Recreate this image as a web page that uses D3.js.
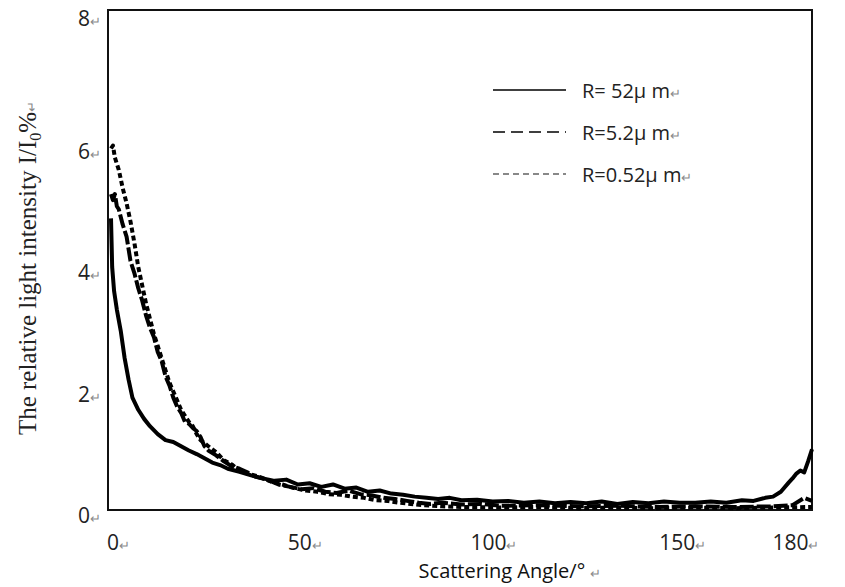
<!DOCTYPE html>
<html>
<head>
<meta charset="utf-8">
<script src="https://cdn.jsdelivr.net/npm/d3@7"></script>
<style>
  body { margin: 0; background: #fff; }
</style>
</head>
<body>
<div id="chart"></div>
<script>
let w = 845, h = 587;

// scattering angle (deg) / relative intensity (%)
const angles52 = [0, 0.3, 0.8, 1.5, 2.5, 3.5, 4.5, 5.5, 7, 8.5, 10, 12, 14, 16, 18, 20, 22, 24, 26, 28, 30, 33, 36, 39, 42, 45, 48, 51, 54, 57, 60, 63, 66, 69, 72, 75, 78, 81, 84, 87, 90, 94, 98, 102, 106, 110, 114, 118, 122, 126, 130, 134, 138, 142, 146, 150, 154, 158, 162, 165, 168, 170, 172, 174, 175, 176, 177, 178, 179, 180];
const values52 = [4.8, 4.0, 3.6, 3.3, 2.95, 2.5, 2.15, 1.85, 1.65, 1.5, 1.38, 1.25, 1.15, 1.12, 1.05, 0.98, 0.92, 0.85, 0.78, 0.74, 0.68, 0.63, 0.57, 0.52, 0.48, 0.5, 0.42, 0.44, 0.38, 0.42, 0.35, 0.37, 0.3, 0.32, 0.27, 0.25, 0.22, 0.2, 0.18, 0.2, 0.16, 0.17, 0.14, 0.15, 0.12, 0.14, 0.11, 0.13, 0.11, 0.14, 0.1, 0.13, 0.11, 0.14, 0.12, 0.12, 0.14, 0.12, 0.16, 0.15, 0.2, 0.22, 0.3, 0.45, 0.52, 0.6, 0.65, 0.62, 0.8, 1.0];

const angles5 = [0, 0.5, 1, 1.5, 2, 3, 4, 5, 6, 7, 8, 9, 10, 11, 12, 13, 14, 15, 16, 17, 18, 19, 20, 21, 22, 23, 24, 25, 27, 29, 31, 33, 35, 37, 40, 43, 46, 49, 52, 55, 58, 61, 64, 67, 70, 73, 76, 79, 82, 85, 90, 95, 100, 110, 120, 130, 140, 150, 160, 170, 175, 178, 180];
const values5 = [5.2, 5.1, 5.2, 5.0, 4.95, 4.7, 4.5, 4.1, 3.9, 3.65, 3.45, 3.2, 3.0, 2.85, 2.6, 2.45, 2.2, 2.05, 1.85, 1.7, 1.6, 1.45, 1.42, 1.35, 1.3, 1.2, 1.05, 0.98, 0.9, 0.8, 0.72, 0.68, 0.62, 0.55, 0.5, 0.42, 0.38, 0.34, 0.36, 0.3, 0.28, 0.32, 0.26, 0.24, 0.2, 0.18, 0.15, 0.12, 0.1, 0.12, 0.09, 0.1, 0.07, 0.08, 0.06, 0.07, 0.05, 0.06, 0.05, 0.06, 0.08, 0.2, 0.15];

const angles05 = [0, 0.5, 1, 2, 3, 4, 5, 6, 7, 8, 9, 10, 11, 12, 13, 14, 15, 16, 17, 18, 19, 20, 21, 22, 23, 24, 25, 27, 29, 31, 33, 35, 38, 41, 44, 47, 50, 53, 56, 59, 62, 65, 68, 71, 74, 77, 80, 85, 90, 100, 110, 120, 130, 140, 150, 160, 170, 180];
const values05 = [5.95, 6.0, 5.8, 5.6, 5.3, 5.05, 4.75, 4.4, 4.0, 3.7, 3.4, 3.15, 2.9, 2.7, 2.5, 2.3, 2.1, 1.95, 1.8, 1.65, 1.55, 1.45, 1.38, 1.25, 1.15, 1.1, 1.05, 0.95, 0.82, 0.75, 0.65, 0.6, 0.55, 0.47, 0.42, 0.36, 0.32, 0.3, 0.26, 0.25, 0.22, 0.2, 0.16, 0.15, 0.12, 0.1, 0.08, 0.06, 0.05, 0.04, 0.05, 0.03, 0.04, 0.03, 0.04, 0.03, 0.04, 0.05];

const seriesNames = ["R= 52", "R=5.2", "R=0.52"];
const xTicks = [0, 50, 100, 150, 180];
const yTicks = [0, 2, 4, 6, 8];

const sans = "'Open Sans', 'Liberation Sans', sans-serif";
const serif = "'Liberation Serif', 'Times New Roman', serif";

let svg = d3.select("#chart")
    .append("svg")
    .attr("width", w)
    .attr("height", h);

let x = d3.scaleLinear().domain([0, 180]).range([111, 812]);
let y = d3.scaleLinear().domain([0, 8]).range([510, 24]);

// frame
svg.append("rect")
    .attr("x", 108).attr("y", 10)
    .attr("width", 812 - 108).attr("height", 510 - 10)
    .attr("fill", "none").attr("stroke", "#111").attr("stroke-width", 2);

const styles = [
    {dash: null, legendDash: null, legendColor: "#000", legendWidth: 1.5},
    {dash: "14,3", legendDash: "12,6", legendColor: "#000", legendWidth: 1.5},
    {dash: "5,3", legendDash: "6,4", legendColor: "#888", legendWidth: 2.2}
];

const series = [
    angles52.map((a, i) => [a, values52[i]]),
    angles5.map((a, i) => [a, values5[i]]),
    angles05.map((a, i) => [a, values05[i]])
];

let line = d3.line()
    .x(d => x(d[0]))
    .y(d => y(d[1]));

svg.append("g").selectAll("path")
    .data(series)
    .enter().append("path")
    .attr("d", line)
    .attr("fill", "none")
    .attr("stroke", "#000")
    .attr("stroke-width", 4)
    .attr("stroke-linejoin", "round")
    .attr("stroke-dasharray", (d, i) => styles[i].dash);

// tick labels with the little return marks
const arrowColor = "#8a8a8a";

let yLab = svg.append("g").selectAll("text")
    .data(yTicks)
    .enter().append("text")
    .attr("x", 78)
    .attr("y", d => y(d) + (d == 8 ? 2 : 13))
    .attr("font-family", sans)
    .attr("font-size", 21)
    .attr("fill", "#222");
yLab.append("tspan").text(d => d);
yLab.append("tspan").attr("fill", arrowColor).attr("font-size", 13).text("\u21B5");

let xLab = svg.append("g").selectAll("text")
    .data(xTicks)
    .enter().append("text")
    .attr("y", 550)
    .attr("font-family", sans)
    .attr("font-size", 21)
    .attr("fill", "#222");
xLab.append("tspan").attr("class", "num").text(d => d);
xLab.append("tspan").attr("fill", arrowColor).attr("font-size", 13).text("\u21B5");
xLab.attr("x", function(d) {
    let len = d3.select(this).select(".num").node().getComputedTextLength();
    return x(d) - len / 2 - (d == 0 ? -2 : d / 50 * 6);
});

// axis titles
let xt = svg.append("text")
    .attr("x", 510).attr("y", 578)
    .attr("text-anchor", "middle")
    .attr("font-family", sans)
    .attr("font-size", 20)
    .attr("fill", "#111");
xt.append("tspan").text("Scattering Angle/\u00B0 ");
xt.append("tspan").attr("fill", arrowColor).attr("font-size", 13).text("\u21B5");

let yt = svg.append("text")
    .attr("transform", "translate(36,268) rotate(-90)")
    .attr("text-anchor", "middle")
    .attr("font-family", serif)
    .attr("font-size", 25)
    .attr("fill", "#222");
yt.append("tspan").text("The relative light intensity I/I");
yt.append("tspan").attr("font-size", 16).attr("dy", 5).text("0");
yt.append("tspan").attr("dy", -5).text("%");
yt.append("tspan").attr("fill", arrowColor).attr("font-size", 13).text("\u21B5");

// legend
let legend = svg.append("g").selectAll("g")
    .data(seriesNames)
    .enter().append("g")
    .attr("transform", (d, i) => "translate(0," + (90 + i * 42) + ")");

legend.append("line")
    .attr("x1", 493).attr("x2", 566)
    .attr("stroke", (d, i) => styles[i].legendColor)
    .attr("stroke-width", (d, i) => styles[i].legendWidth)
    .attr("stroke-dasharray", (d, i) => styles[i].legendDash);

let lt = legend.append("text")
    .attr("x", 582).attr("y", 8)
    .attr("font-family", sans)
    .attr("font-size", 20)
    .attr("fill", "#222");
lt.append("tspan").text(d => d);
lt.append("tspan").text("\u03BC m");
lt.append("tspan").attr("fill", arrowColor).attr("font-size", 13).text("\u21B5");
</script>
</body>
</html>
